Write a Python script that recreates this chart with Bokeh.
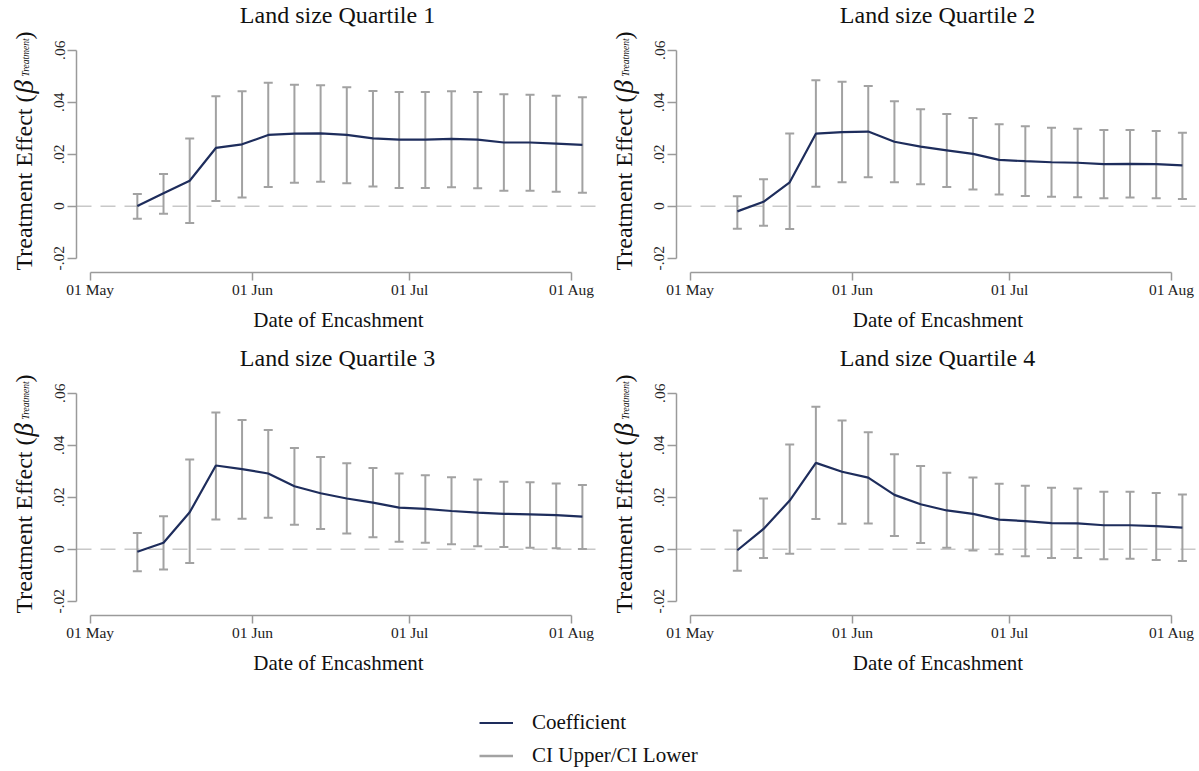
import numpy as np
import pandas as pd
from bokeh.plotting import figure
from bokeh.layouts import column, row
from bokeh.models import (FixedTicker, DatetimeTickFormatter, Span, Label,
                          Legend, LegendItem, Range1d)
from bokeh.embed import file_html
from bokeh.resources import INLINE

# ---------------- data ----------------
dates = ["2020-05-10", "2020-05-15", "2020-05-20", "2020-05-25", "2020-05-30",
         "2020-06-04", "2020-06-09", "2020-06-14", "2020-06-19", "2020-06-24",
         "2020-06-29", "2020-07-04", "2020-07-09", "2020-07-14", "2020-07-19",
         "2020-07-24", "2020-07-29", "2020-08-03"]
x_tick_dates = ["2020-05-01", "2020-06-01", "2020-07-01", "2020-08-01"]
x_tick_labels = ["01 May", "01 Jun", "01 Jul", "01 Aug"]
y_ticks = [-0.02, 0.0, 0.02, 0.04, 0.06]
y_tick_labels = ["-.02", "0", ".02", ".04", ".06"]
titles = ["Land size Quartile 1", "Land size Quartile 2",
          "Land size Quartile 3", "Land size Quartile 4"]
x_label = "Date of Encashment"
y_label_main = "Treatment Effect ("
y_label_beta = "\u03b2"
y_label_sub = "Treatment"
y_label_close = ")"
legend_labels = ["Coefficient", "CI Upper/CI Lower"]

q1_coef = [0.0001, 0.0050, 0.0098, 0.0224, 0.0238, 0.0274, 0.0279, 0.0280, 0.0274,
           0.0261, 0.0256, 0.0256, 0.0259, 0.0256, 0.0245, 0.0245, 0.0241, 0.0236]
q1_upper = [0.0047, 0.0124, 0.0260, 0.0423, 0.0442, 0.0475, 0.0467, 0.0465, 0.0457,
            0.0443, 0.0439, 0.0439, 0.0442, 0.0439, 0.0431, 0.0429, 0.0425, 0.0419]
q1_lower = [-0.0048, -0.0029, -0.0065, 0.0020, 0.0033, 0.0074, 0.0090, 0.0094, 0.0088,
            0.0076, 0.0070, 0.0070, 0.0073, 0.0069, 0.0059, 0.0059, 0.0056, 0.0052]

q2_coef = [-0.0020, 0.0017, 0.0092, 0.0279, 0.0285, 0.0287, 0.0248, 0.0229, 0.0215,
           0.0201, 0.0178, 0.0173, 0.0169, 0.0167, 0.0162, 0.0163, 0.0162, 0.0157]
q2_upper = [0.0038, 0.0104, 0.0280, 0.0484, 0.0479, 0.0462, 0.0404, 0.0373, 0.0355,
            0.0339, 0.0315, 0.0307, 0.0302, 0.0298, 0.0293, 0.0293, 0.0289, 0.0282]
q2_lower = [-0.0087, -0.0075, -0.0088, 0.0075, 0.0092, 0.0111, 0.0092, 0.0084, 0.0074,
            0.0064, 0.0045, 0.0039, 0.0036, 0.0034, 0.0031, 0.0033, 0.0031, 0.0028]

q3_coef = [-0.0010, 0.0025, 0.0142, 0.0322, 0.0308, 0.0291, 0.0242, 0.0215, 0.0195,
           0.0179, 0.0160, 0.0155, 0.0147, 0.0141, 0.0136, 0.0134, 0.0131, 0.0125]
q3_upper = [0.0062, 0.0127, 0.0345, 0.0526, 0.0497, 0.0458, 0.0389, 0.0355, 0.0331,
            0.0312, 0.0291, 0.0284, 0.0277, 0.0268, 0.0259, 0.0257, 0.0253, 0.0247]
q3_lower = [-0.0085, -0.0078, -0.0053, 0.0114, 0.0117, 0.0121, 0.0094, 0.0078, 0.0060,
            0.0046, 0.0029, 0.0025, 0.0019, 0.0011, 0.0008, 0.0006, 0.0004, 0.0001]

q4_coef = [-0.0004, 0.0078, 0.0187, 0.0332, 0.0298, 0.0275, 0.0209, 0.0173, 0.0149,
           0.0136, 0.0114, 0.0108, 0.0100, 0.0099, 0.0092, 0.0092, 0.0089, 0.0083]
q4_upper = [0.0072, 0.0195, 0.0403, 0.0548, 0.0495, 0.0450, 0.0365, 0.0320, 0.0294,
            0.0276, 0.0252, 0.0244, 0.0236, 0.0233, 0.0221, 0.0221, 0.0216, 0.0210]
q4_lower = [-0.0083, -0.0034, -0.0018, 0.0116, 0.0098, 0.0099, 0.0051, 0.0024, 0.0006,
            -0.0005, -0.0019, -0.0027, -0.0034, -0.0034, -0.0039, -0.0037, -0.0042, -0.0045]

series = [(q1_coef, q1_upper, q1_lower), (q2_coef, q2_upper, q2_lower),
          (q3_coef, q3_upper, q3_lower), (q4_coef, q4_upper, q4_lower)]

# ---------------- style / layout ----------------
NAVY = "#1e2d5c"
GRAY = "#a2a2a2"
AXIS = "#9a9a9a"
ZERO = "#c8c8c8"
FONT = "Liberation Serif"
TXT = "#111111"

CELL_H = 343
TITLE_H = 38
PLOT_H = CELL_H - TITLE_H
TOP = 6
FRAME_H = 228
LAB_W = 44
BORDER_L = 32
DAY = 86400000.0
PX_PER_DAY = 5.236
Y1 = 0.06219
Y0 = Y1 - FRAME_H / 2600.0


def ms(s):
    return (pd.Timestamp(s) - pd.Timestamp("1970-01-01")).total_seconds() * 1000.0


x_dt = pd.to_datetime(dates)
x_tick_ms = [ms(d) for d in x_tick_dates]
X0 = x_tick_ms[0] - 2.62 * DAY


def blank_fig(w, h):
    f = figure(width=w, height=h, output_backend="svg", toolbar_location=None,
               x_range=Range1d(0, 1), y_range=Range1d(0, 1),
               x_axis_location=None, y_axis_location=None, min_border=0)
    f.grid.visible = False
    f.outline_line_color = None
    return f


def make_cell(i, cell_w):
    coef, upper, lower = series[i]
    plot_w = cell_w - LAB_W
    frame_w = plot_w - BORDER_L
    xe = X0 + frame_w / PX_PER_DAY * DAY
    p = figure(width=plot_w, height=PLOT_H, x_axis_type="datetime",
               output_backend="svg", toolbar_location=None,
               x_range=Range1d(X0, xe), y_range=Range1d(Y0, Y1),
               min_border_left=BORDER_L, min_border_right=0,
               min_border_top=TOP, min_border_bottom=PLOT_H - TOP - FRAME_H)
    p.grid.visible = False
    p.outline_line_color = None

    zero = Span(location=0, dimension="width", line_color=ZERO, line_width=1.6,
                line_dash="15 9", level="underlay")
    p.add_layout(zero)

    p.segment(x0=x_dt, y0=lower, x1=x_dt, y1=upper, line_color=GRAY, line_width=2)
    p.scatter(x=x_dt, y=upper, marker="dash", size=9, line_color=GRAY, line_width=2)
    p.scatter(x=x_dt, y=lower, marker="dash", size=9, line_color=GRAY, line_width=2)
    p.line(x=x_dt, y=coef, line_color=NAVY, line_width=2.2)

    # x axis
    xa = p.xaxis[0]
    xa.ticker = FixedTicker(ticks=x_tick_ms, minor_ticks=[])
    xa.formatter = DatetimeTickFormatter(days="%d %b", months="%d %b")
    xa.major_label_overrides = dict(zip(x_tick_ms, x_tick_labels))
    xa.bounds = (x_tick_ms[0], x_tick_ms[-1])
    xa.axis_line_color = AXIS
    xa.axis_line_width = 1.5
    xa.major_tick_line_color = AXIS
    xa.major_tick_line_width = 1.5
    xa.major_tick_in = 0
    xa.major_tick_out = 8
    xa.minor_tick_line_color = None
    xa.major_label_standoff = 0
    xa.major_label_text_font = FONT
    xa.major_label_text_font_size = "15.5px"
    xa.major_label_text_color = "#222222"
    xa.axis_label = x_label
    xa.axis_label_text_font = FONT
    xa.axis_label_text_font_size = "21px"
    xa.axis_label_text_font_style = "normal"
    xa.axis_label_text_color = TXT
    xa.axis_label_standoff = 7

    # y axis
    ya = p.yaxis[0]
    ya.ticker = FixedTicker(ticks=y_ticks, minor_ticks=[])
    ya.major_label_overrides = dict(zip(y_ticks, y_tick_labels))
    ya.bounds = (y_ticks[0], y_ticks[-1])
    ya.axis_line_color = AXIS
    ya.axis_line_width = 1.5
    ya.major_tick_line_color = AXIS
    ya.major_tick_line_width = 1.5
    ya.major_tick_in = 0
    ya.major_tick_out = 9
    ya.minor_tick_line_color = None
    ya.major_label_orientation = "vertical"
    ya.major_label_standoff = 3
    ya.major_label_text_font = FONT
    ya.major_label_text_font_size = "15.5px"
    ya.major_label_text_color = "#222222"

    # title figure (its frame is aligned with the plot frame below it)
    tf = blank_fig(plot_w, TITLE_H)
    tf.add_layout(Label(x=261, y=24, x_units="screen", y_units="screen",
                        text=titles[i], text_font=FONT, text_font_size="24px",
                        text_align="center", text_baseline="alphabetic",
                        text_color=TXT))

    # y-axis title figure
    lf = blank_fig(LAB_W, CELL_H)
    common = dict(x_units="screen", y_units="screen", angle=np.pi / 2,
                  text_align="left", text_baseline="alphabetic", text_color=TXT,
                  text_font=FONT)
    lf.add_layout(Label(x=23.5, y=73, text=y_label_main, text_font_size="24px", **common))
    lf.add_layout(Label(x=23.5, y=250, text=y_label_beta, text_font_size="27px",
                        text_font_style="italic", **common))
    lf.add_layout(Label(x=25, y=267, text=y_label_sub, text_font_size="9.5px",
                        text_font_style="italic", **common))
    lf.add_layout(Label(x=23.5, y=304, text=y_label_close, text_font_size="24px", **common))

    return row(lf, column(tf, p))


c1 = make_cell(0, 600)
c2 = make_cell(1, 599)
c3 = make_cell(2, 600)
c4 = make_cell(3, 599)

LEG_H = 771 - 2 * CELL_H
legf = blank_fig(1199, LEG_H)
r1 = legf.line(x=np.array([np.nan]), y=np.array([np.nan]), line_color=NAVY, line_width=2.2)
r2 = legf.segment(x0=np.array([np.nan]), y0=np.array([np.nan]),
                  x1=np.array([np.nan]), y1=np.array([np.nan]),
                  line_color=GRAY, line_width=2.5)
leg = Legend(items=[LegendItem(label=legend_labels[0], renderers=[r1]),
                    LegendItem(label=legend_labels[1], renderers=[r2])],
             location=(479, 3), orientation="vertical",
             glyph_width=34, glyph_height=23, label_height=23, label_standoff=19,
             spacing=8, padding=0, margin=0,
             border_line_color=None, background_fill_alpha=0,
             label_text_font=FONT, label_text_font_size="21px",
             label_text_color=TXT)
legf.add_layout(leg)

layout = column(row(c1, c2), row(c3, c4), legf)

open("out.html", "w").write(file_html(layout, INLINE))
